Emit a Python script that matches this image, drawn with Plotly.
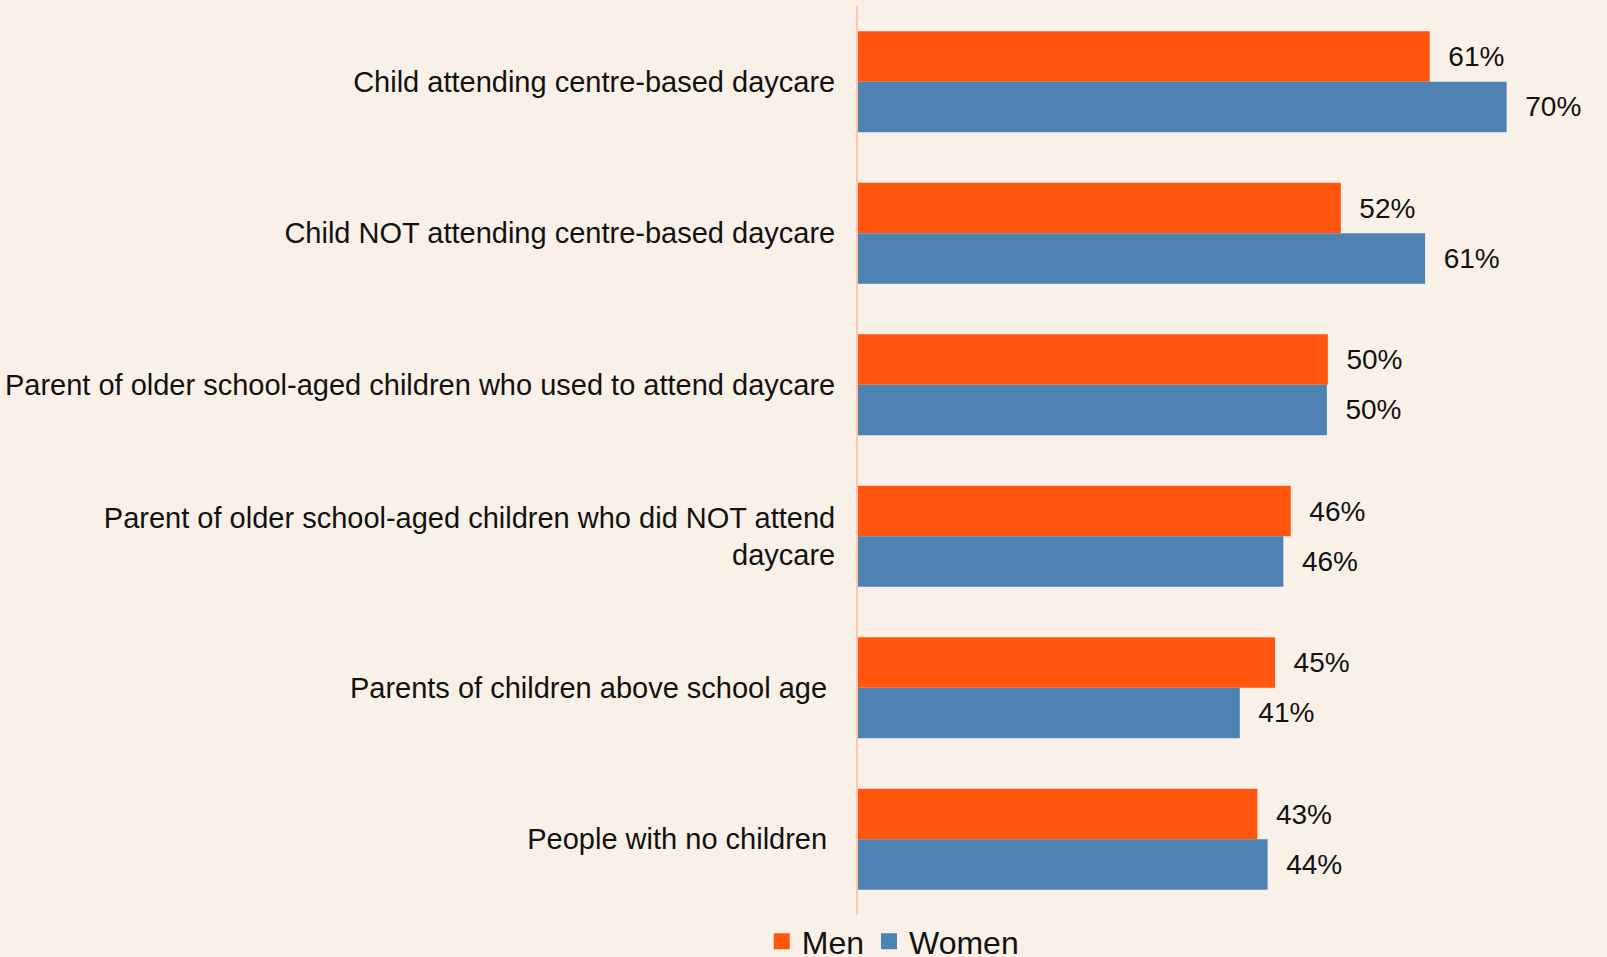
import plotly.graph_objects as go

categories = [
    "Child attending centre-based daycare",
    "Child NOT attending centre-based daycare",
    "Parent of older school-aged children who used to attend daycare",
    "Parent of older school-aged children who did NOT attend<br>daycare",
    "Parents of children above school age ",
    "People with no children ",
]
men_values = [61.7, 52.1, 50.7, 46.7, 45.0, 43.1]
women_values = [70.0, 61.2, 50.6, 45.9, 41.2, 44.2]
men_labels = ["61%", "52%", "50%", "46%", "45%", "43%"]
women_labels = ["70%", "61%", "50%", "46%", "41%", "44%"]
series_names = ["Men", "Women"]
series_colors = ["#FF550F", "#4E82B2"]

FONT = "Liberation Sans, Arial, sans-serif"
BG = "#F9F1E7"

fig = go.Figure()
for name, vals, labels, color in zip(series_names, [men_values, women_values],
                                     [men_labels, women_labels], series_colors):
    fig.add_trace(go.Bar(
        y=categories, x=vals, orientation="h", name=name, showlegend=False,
        marker=dict(color=color, line=dict(width=0)),
        text=labels, texttemplate="\u00a0\u00a0%{text}",
        textposition="outside", cliponaxis=False,
        textfont=dict(size=28, color="#111111", family=FONT),
    ))
# legend entries with larger square swatches
for name, color in zip(series_names, series_colors):
    fig.add_trace(go.Scatter(
        x=[None], y=[None], mode="markers", name=name,
        marker=dict(symbol="square", size=17, color=color),
    ))

fig.update_layout(
    width=1607, height=957,
    paper_bgcolor=BG, plot_bgcolor=BG,
    margin=dict(l=858, r=54, t=6, b=42, autoexpand=False),
    barmode="group", bargap=0.334, bargroupgap=0,
    font=dict(family=FONT, size=29, color="#111111"),
    showlegend=True,
    legend=dict(orientation="h", x=0.05, xanchor="center", y=-0.029, yanchor="middle",
                font=dict(size=32, color="#111111", family=FONT),
                bgcolor="rgba(0,0,0,0)", traceorder="normal", itemsizing="trace",
                itemwidth=30),
)
fig.update_xaxes(range=[0, 75], visible=False, showgrid=False, zeroline=False)
fig.update_yaxes(autorange="reversed", showgrid=False, zeroline=False,
                 showline=True, linecolor="#FFC6AC", linewidth=2,
                 ticks="", ticklabelstandoff=15,
                 tickfont=dict(size=29, color="#111111", family=FONT))

fig.write_html(
    "out.html",
    config={"displayModeBar": False},
    post_script="document.body.style.margin='0';document.body.style.background='%s';" % BG,
)
